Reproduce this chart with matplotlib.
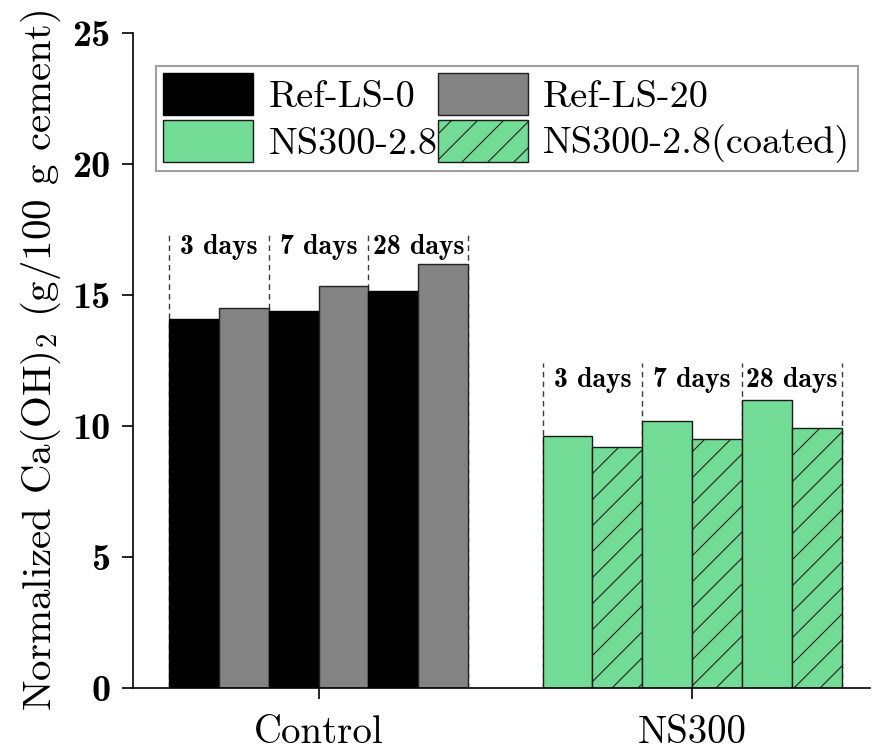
import matplotlib.pyplot as plt
import numpy as np

plt.rcParams['mathtext.fontset'] = 'cm'
plt.rcParams['axes.unicode_minus'] = False

# data
groups = ["Control", "NS300"]
ages = ["3 days", "7 days", "28 days"]
ref_ls0 = [14.08, 14.39, 15.15]
ref_ls20 = [14.50, 15.34, 16.18]
ns300 = [9.62, 10.19, 10.99]
ns300_coated = [9.20, 9.50, 9.92]

green = '#72dc96'
w = 0.1335

# low dpi so the hatch spacing comes out close to the reference; sizes scaled by K
DPI = 78
K = 100 / DPI

fig = plt.figure(figsize=(874 / DPI, 751 / DPI), dpi=DPI)
ax = fig.add_axes([0.152, 0.084, 0.843, 0.872])

centers = np.arange(len(groups))
h = {}
for k in range(3):
    # control pair
    x0 = centers[0] + (2 * k - 2.5) * w
    h['Ref-LS-0'] = ax.bar(x0, ref_ls0[k], w, color='black', edgecolor='black', lw=1 * K, zorder=2)
    h['Ref-LS-20'] = ax.bar(x0 + w, ref_ls20[k], w, color='#838383', edgecolor='#222222', lw=1 * K, zorder=2)
    # NS300 pair
    x1 = centers[1] + (2 * k - 2.5) * w
    h['NS300-2.8'] = ax.bar(x1, ns300[k], w, color=green, edgecolor='#1a1a1a', lw=1 * K, zorder=2)
    h['NS300-2.8(coated)'] = ax.bar(x1 + w, ns300_coated[k], w, color=green, edgecolor='#1a1a1a',
                                    lw=1 * K, hatch='/', zorder=2)

# age separators and labels
sep_top = [17.4, 12.4]
lab_y = [16.83, 11.75]
for g in range(2):
    for k in range(4):
        xs = centers[g] + (2 * k - 3) * w
        ax.plot([xs, xs], [0, sep_top[g]], ls=(0, (4, 3)), color='#3a3a3a', lw=1 * K, zorder=1)
    for k in range(3):
        ax.text(centers[g] + (2 * k - 2) * w, lab_y[g], ages[k], ha='center', va='center',
                fontsize=20 * K, family='cmb10')

ax.set_xlim(-0.497, 1.475)
ax.set_ylim(0, 25)
ax.set_yticks([0, 5, 10, 15, 20, 25])
ax.set_xticks(centers)
ax.set_xticklabels(groups, family='cmr10', fontsize=28 * K)
for t in ax.get_yticklabels():
    t.set_family('cmb10')
    t.set_fontsize(27.5 * K)
ax.tick_params(axis='both', direction='out', length=8 * K, width=1.2 * K)
ax.tick_params(axis='x', pad=11.5 * K)
ax.tick_params(axis='y', pad=8 * K)
ax.spines['top'].set_visible(False)
ax.spines['right'].set_visible(False)
ax.spines['left'].set_linewidth(1.2 * K)
ax.spines['bottom'].set_linewidth(1.2 * K)

ax.set_ylabel(r'Normalized Ca(OH)$_2$ (g/100 g cement)', family='cmr10', fontsize=29.5 * K, labelpad=7 * K)

# matplotlib fills legend columns first
order = ['Ref-LS-0', 'NS300-2.8', 'Ref-LS-20', 'NS300-2.8(coated)']
leg = ax.legend([h[n] for n in order], order, ncol=2, loc='upper left', bbox_to_anchor=(0.031, 0.95),
                prop={'family': 'cmr10', 'size': 27.6 * K}, frameon=True, fancybox=False,
                edgecolor='#888888', handlelength=2.34, handleheight=1.3,
                labelspacing=0.12, handletextpad=0.4, columnspacing=0.02,
                borderpad=0.2, borderaxespad=0)
leg.get_frame().set_linewidth(1.5 * K)

fig.savefig('out.png', dpi=DPI)
